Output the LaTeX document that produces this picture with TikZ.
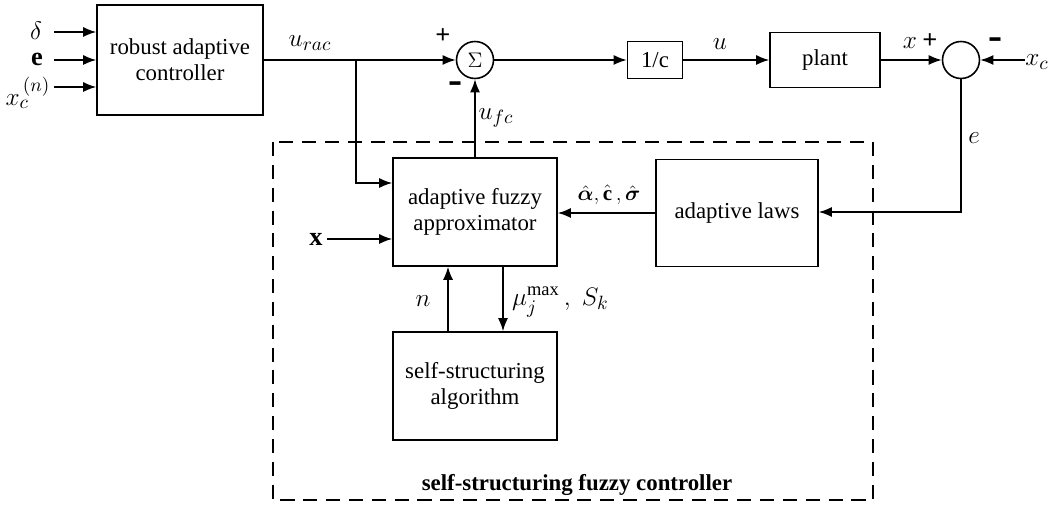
\documentclass[tikz,border=0pt]{standalone}
\usepackage{amsmath,amssymb}
\usepackage{fontspec}
\setmainfont{Liberation Serif}
\usepackage{tikz}
\usetikzlibrary{arrows.meta,positioning}
\tikzset{
  blk/.style={draw,line width=0.9pt,align=center,inner sep=2pt},
  sumc/.style={circle,draw,line width=0.9pt,minimum size=0.74cm,inner sep=0pt},
  ar/.style={-{Latex[length=2.6mm,width=2mm]},line width=0.9pt},
  ln/.style={line width=0.9pt},
  lbl/.style={inner sep=1pt,font=\fontsize{15}{17}\selectfont},
  sgn/.style={inner sep=1pt,font=\bfseries\fontsize{15}{17}\selectfont},
  mns/.style={inner sep=1pt,font=\bfseries\fontsize{24}{26}\selectfont}
}

\begin{document}
\begin{tikzpicture}[x=0.02cm,y=-0.02cm,font=\fontsize{13}{15}\selectfont]
\useasboundingbox (0,0) rectangle (1049,506);
\node[blk,minimum width=3.32cm,minimum height=2.2cm] (rac) at (180,60) {robust adaptive\\controller};
\node[sumc] (s1) at (475,60) {$\Sigma$};
\node[blk,minimum width=1.1cm,minimum height=0.74cm] (inv) at (655,60) {1/c};
\node[blk,minimum width=2.2cm,minimum height=1.1cm] (plant) at (825,60) {plant};
\node[sumc] (s2) at (961,60) {};
\node[blk,minimum width=3.28cm,minimum height=2.16cm] (afa) at (475,212) {adaptive fuzzy\\approximator};
\node[blk,minimum width=3.24cm,minimum height=2.14cm] (law) at (737,213) {adaptive laws};
\node[blk,minimum width=3.28cm,minimum height=2.16cm] (ssa) at (475,386) {self-structuring\\algorithm};
% inputs
\node[lbl] (idelta) at (36,31) {$\delta$};
\node[lbl] (ie) at (37,59) {$\mathbf{e}$};
\node[lbl] (ixc) at (28,93) {$x_c^{\,(n)}$};
\coordinate (d0) at (54,32);
\coordinate (e0) at (54,60);
\coordinate (xc0) at (54,87);
\foreach \p in {d0,e0,xc0}{\draw[ar] (\p) -- (\p -| rac.west);}
% forward path
\draw[ar] (rac.east) -- (s1.west);
\foreach \p/\q in {s1/inv,inv/plant,plant/s2}{\draw[ar] (\p) -- (\q);}
\coordinate (br) at (356,60);
\draw[ar] (br) |- ([yshift=0.58cm]afa.west);
\draw[ar] (afa.north) -- (s1.south);
\coordinate (xr) at (1025,60);
\draw[ar] (xr) -- (s2.east);
\draw[ar] (s2.south) |- ([yshift=0.02cm]law.east);
\draw[ar] (law.west) -- (law.west -| afa.east);
\coordinate (x0) at (327,239);
\draw[ar] (x0) -- (x0 -| afa.west);
\draw[ar] ([xshift=-0.54cm]ssa.north) -- ([xshift=-0.54cm]afa.south);
\draw[ar] ([xshift=0.56cm]afa.south) -- ([xshift=0.56cm]ssa.north);
% labels
\node[lbl] (lurac) at (310,43) {$u_{rac}$};
\node[sgn] (p1) at (443,36) {+};
\node[mns] (m1) at (456,88) {-};
\node[lbl] (lufc) at (496,118) {$u_{fc}$};
\node[lbl] (lu) at (720,44) {$u$};
\node[lbl] (lx) at (910,43) {$x$};
\node[sgn] (p2) at (930,41) {+};
\node[mns] (m2) at (996,44) {-};
\node[lbl] (lxc) at (1037,62) {$x_c$};
\node[lbl] (le) at (974,138) {$e$};
\node[inner sep=1pt,font=\fontsize{12}{14}\selectfont] (lhat) at (609,195) {$\hat{\boldsymbol{\alpha}},\hat{\mathbf{c}}\,,\hat{\boldsymbol{\sigma}}$};
\node[lbl] (lxx) at (316,239) {$\mathbf{x}$};
\node[lbl] (ln) at (423,301) {$n$};
\node[lbl,anchor=west] (lmu) at (510,302) {$\mu_j^{\max}\,,\;S_k$};
% dashed frame
\draw[ln,dash pattern=on 8pt off 5pt] (273,142) rectangle (873,500);
\node[font=\bfseries\fontsize{13}{15}\selectfont] (ttl) at (577,485) {self-structuring fuzzy controller};
\end{tikzpicture}
\end{document}
